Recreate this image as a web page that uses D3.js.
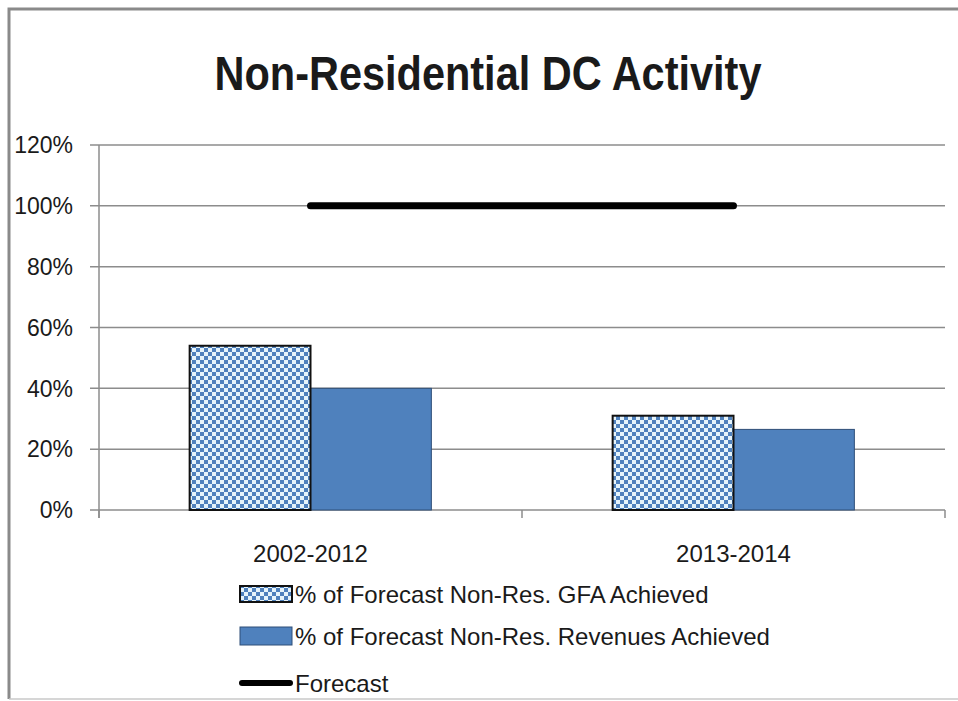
<!DOCTYPE html>
<html lang="en">
<head>
  <meta charset="UTF-8">
  <title>Non-Residential DC Activity</title>
  <script src="https://d3js.org/d3.v7.min.js"></script>
  <style>
    html, body { margin: 0; background: #fff; overflow: hidden; }
    svg { display: block; }
    text { font-family: "Liberation Sans", Arial, sans-serif; fill: #1a1a1a; }
    .grid line { stroke: #8c8c8c; stroke-width: 1.5px; }
  </style>
</head>
<body>
  <script>
    // data
    const categories = ["2002-2012", "2013-2014"];
    const gfaAchieved = [0.54, 0.31];
    const revenueAchieved = [0.40, 0.265];
    const forecast = [1.0, 1.0];
    const yTicks = [0, 0.2, 0.4, 0.6, 0.8, 1.0, 1.2];
    const seriesNames = [
      "% of Forecast Non-Res. GFA Achieved",
      "% of Forecast Non-Res. Revenues Achieved",
      "Forecast"
    ];

    const width = 958, height = 701;
    const blue = "#4f81bd";

    const svg = d3.select("body").append("svg")
      .attr("width", width)
      .attr("height", height);

    // checker pattern for the GFA series
    const defs = svg.append("defs");
    const pat = defs.append("pattern")
      .attr("id", "checker")
      .attr("patternUnits", "userSpaceOnUse")
      .attr("width", 8).attr("height", 8);
    pat.append("rect").attr("width", 8).attr("height", 8).attr("fill", "#e6f4fb");
    pat.append("rect").attr("width", 4).attr("height", 4).attr("fill", blue);
    pat.append("rect").attr("x", 4).attr("y", 4).attr("width", 4).attr("height", 4).attr("fill", blue);

    // outer frame: top, left and a faint bottom, the right side is cut off
    svg.append("path")
      .attr("d", `M${width},9H9V699`)
      .attr("fill", "none")
      .attr("stroke", "#8a8a8a")
      .attr("stroke-width", 3);
    svg.append("line")
      .attr("x1", 9).attr("x2", width)
      .attr("y1", 699).attr("y2", 699)
      .attr("stroke", "#c8c8c8").attr("stroke-width", 1.5);

    // title
    svg.append("text")
      .attr("x", 488).attr("y", 90)
      .attr("text-anchor", "middle")
      .style("font-family", "'Liberation Sans Narrow', 'Liberation Sans', sans-serif")
      .style("font-weight", "bold")
      .style("font-size", "48px")
      .attr("textLength", 547)
      .attr("lengthAdjust", "spacingAndGlyphs")
      .text("Non-Residential DC Activity");

    const plotLeft = 99, plotRight = 945;
    const y = d3.scaleLinear().domain([0, 1.2]).range([510, 145]);
    const x = d3.scaleBand().domain(categories).range([plotLeft, plotRight]);

    // bars take 2 of 3.5 units of each band (gap width 150%)
    const groupW = x.bandwidth() * 2 / 3.5;
    const xs = d3.scaleBand().domain(["gfa", "rev"]).range([0, groupW]);

    // gridlines
    svg.append("g").attr("class", "grid")
      .selectAll("line")
      .data(yTicks)
      .join("line")
      .attr("x1", plotLeft - 9).attr("x2", plotRight)
      .attr("y1", d => y(d)).attr("y2", d => y(d));

    // y axis labels
    svg.append("g")
      .selectAll("text")
      .data(yTicks)
      .join("text")
      .attr("x", 73)
      .attr("y", d => y(d))
      .attr("dy", "0.36em")
      .attr("text-anchor", "end")
      .style("font-size", "23px")
      .text(d => d3.format(".0%")(d));

    // y axis line
    svg.append("line")
      .attr("x1", plotLeft).attr("x2", plotLeft)
      .attr("y1", y(1.2)).attr("y2", y(0) + 8)
      .attr("stroke", "#8c8c8c").attr("stroke-width", 1.5);

    // x ticks at band boundaries
    const bounds = categories.map(c => x(c)).concat([plotRight]);
    svg.append("g")
      .selectAll("line")
      .data(bounds)
      .join("line")
      .attr("x1", d => d).attr("x2", d => d)
      .attr("y1", y(0)).attr("y2", y(0) + 8)
      .attr("stroke", "#8c8c8c").attr("stroke-width", 1.5);

    // x category labels
    svg.append("g")
      .selectAll("text")
      .data(categories)
      .join("text")
      .attr("x", d => x(d) + x.bandwidth() / 2)
      .attr("y", 562)
      .attr("text-anchor", "middle")
      .style("font-size", "24px")
      .text(d => d);

    const groupX = c => x(c) + (x.bandwidth() - groupW) / 2;

    // revenue bars
    svg.append("g")
      .selectAll("rect")
      .data(categories)
      .join("rect")
      .attr("x", (c) => groupX(c) + xs("rev"))
      .attr("y", (c, i) => y(revenueAchieved[i]))
      .attr("width", xs.bandwidth())
      .attr("height", (c, i) => y(0) - y(revenueAchieved[i]))
      .attr("fill", blue)
      .attr("stroke", "#2f4f78")
      .attr("stroke-width", 1);

    // GFA bars
    svg.append("g")
      .selectAll("rect")
      .data(categories)
      .join("rect")
      .attr("x", (c) => groupX(c) + xs("gfa"))
      .attr("y", (c, i) => y(gfaAchieved[i]))
      .attr("width", xs.bandwidth())
      .attr("height", (c, i) => y(0) - y(gfaAchieved[i]))
      .attr("fill", "url(#checker)")
      .attr("stroke", "#111")
      .attr("stroke-width", 2);

    // forecast line
    const line = d3.line()
      .x((d, i) => x(categories[i]) + x.bandwidth() / 2)
      .y(d => y(d));
    svg.append("path")
      .datum(forecast)
      .attr("d", line)
      .attr("fill", "none")
      .attr("stroke", "#000")
      .attr("stroke-width", 7)
      .attr("stroke-linecap", "round");

    // legend
    const legendX = 240, legendRows = [594, 636, 683];
    const lg = svg.append("g");
    lg.append("rect")
      .attr("x", legendX).attr("y", legendRows[0] - 8)
      .attr("width", 52).attr("height", 16)
      .attr("fill", "url(#checker)")
      .attr("stroke", "#111").attr("stroke-width", 2);
    lg.append("rect")
      .attr("x", legendX).attr("y", legendRows[1] - 9)
      .attr("width", 52).attr("height", 18)
      .attr("fill", blue)
      .attr("stroke", "#2f4f78").attr("stroke-width", 1);
    lg.append("line")
      .attr("x1", legendX + 2).attr("x2", legendX + 50)
      .attr("y1", legendRows[2]).attr("y2", legendRows[2])
      .attr("stroke", "#000").attr("stroke-width", 6)
      .attr("stroke-linecap", "round");
    lg.selectAll("text")
      .data(seriesNames)
      .join("text")
      .attr("x", legendX + 55)
      .attr("y", (d, i) => legendRows[i])
      .attr("dy", "0.36em")
      .style("font-size", "24px")
      .text(d => d);
  </script>
</body>
</html>
